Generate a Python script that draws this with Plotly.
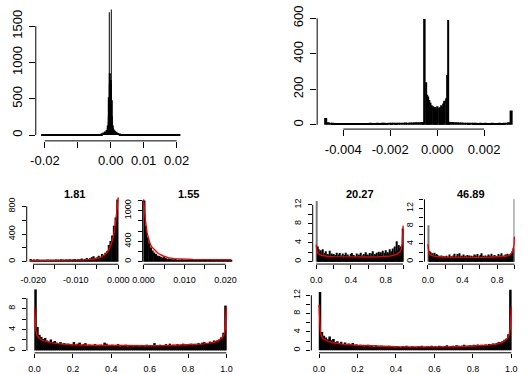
import numpy as np
import plotly.graph_objects as go

W, H = 528, 374
FONT = "Liberation Sans, Arial, sans-serif"

# ---------------- data ----------------
# Panel 1 (top-left) histogram, counts per segment
p1_left_counts = [3, 2, 3, 3, 2, 4, 3, 3, 4, 4, 5, 5, 6, 6, 8, 9, 12, 16]          # -0.021..-0.003, bin 0.001
p1_midl_counts = [25, 35, 50, 70]                                                   # -0.003..-0.001, bin 0.0005
p1_core_counts = [100, 130, 180, 260, 520, 1690, 700, 850, 720, 700,
                  760, 690, 1730, 480, 260, 180, 130, 100, 85, 75]                  # -0.001..0.001, bin 0.0001
p1_midr_counts = [60, 45, 30, 20]                                                   # 0.001..0.003, bin 0.0005
p1_right_counts = [15, 11, 9, 7, 6, 5, 5, 4, 4, 3, 3, 3, 2, 3, 2, 3, 2, 3]         # 0.003..0.021, bin 0.001

# Panel 2 (top-right)
p2_left_counts = [38, 14, 12, 11, 10, 10, 9, 10, 9, 9, 10, 9, 10, 9, 10, 10, 9, 10, 10, 11,
                  10, 10, 11, 10, 11, 11, 10, 12, 11, 12, 11, 12, 12, 12, 13, 12, 13, 13, 14, 14,
                  15, 16]                                                            # -0.0048..-0.0006, bin 0.0001
p2_core_counts = [15, 596, 240, 170, 160, 140, 125, 110, 105, 95, 100, 90, 105, 95, 100, 110,
                  105, 120, 135, 150, 280, 590, 18, 16]                              # -0.0006..0.0006, bin 0.00005
p2_right_counts = [16, 15, 14, 13, 13, 12, 12, 11, 12, 11, 11, 10, 11, 10, 11, 10, 10, 11, 10, 10,
                   11, 10, 11, 12, 14, 80]                                           # 0.0006..0.0032, bin 0.0001

# Panel 3 "1.81"
p3_counts = [40, 25, 30, 20, 35, 15, 20, 25, 15, 20,
             30, 15, 25, 20, 15, 30, 25, 20, 35, 25,
             20, 30, 25, 35, 20, 30, 40, 25, 35, 30,
             45, 30, 40, 55, 35, 50, 65, 80, 45, 60,
             85, 70, 110, 90, 130, 150, 240, 300, 380, 520,
             640, 900]                                                               # -0.0208..0, bin 0.0004
p3_red_x = [-0.0208, -0.018, -0.015, -0.012, -0.010, -0.008, -0.006, -0.005, -0.004, -0.003,
            -0.0025, -0.002, -0.0015, -0.001, -0.0007, -0.0004, -0.0002, 0.0]
p3_red_y = [15, 16, 18, 20, 22, 26, 35, 45, 65, 110, 145, 200, 280, 400, 520, 680, 800, 930]

# Panel 4 "1.55"
p4_counts = [1200, 700, 480, 360, 280, 220, 180, 150, 120, 110,
             95, 80, 90, 70, 60, 65, 55, 50, 45, 60,
             40, 45, 40, 50, 35, 40, 35, 30, 40, 30,
             35, 30, 25, 30, 35, 25, 30, 25, 30, 20,
             25, 30, 20, 25, 20, 25, 30, 20, 25, 20,
             25, 30, 20, 25]                                                         # 0..0.0216, bin 0.0004
p4_red_x = [0.0, 0.0002, 0.0004, 0.0008, 0.0012, 0.0016, 0.002, 0.0028, 0.0036, 0.0048,
            0.006, 0.0075, 0.009, 0.012, 0.015, 0.018, 0.0214]
p4_red_y = [1220, 1000, 850, 580, 440, 345, 290, 220, 160, 112, 80, 60, 50, 42, 40, 38, 38]

# Panel 5 "20.27"  (0..1, bin 0.01)
p5_counts = [12.8, 3.2, 2.6, 2.0, 1.6, 2.4, 1.4, 2.6, 1.2, 1.8,
             1.5, 2.2, 1.0, 1.6, 1.3, 2.3, 1.1, 1.7, 1.4, 1.2,
             1.6, 1.0, 1.4, 1.9, 0.9, 1.5, 1.2, 1.8, 1.0, 1.3,
             1.7, 0.8, 1.4, 1.1, 1.9, 1.0, 1.5, 1.2, 0.9, 1.6,
             1.3, 1.8, 0.8, 1.4, 1.1, 1.0, 1.7, 1.2, 0.9, 1.5,
             1.1, 1.9, 1.0, 1.3, 1.6, 0.9, 1.4, 2.0, 1.1, 1.5,
             1.2, 1.8, 1.0, 1.7, 1.3, 2.2, 1.1, 1.6, 1.4, 1.9,
             1.2, 2.1, 1.5, 1.3, 2.0, 1.4, 2.3, 1.2, 1.8, 1.6,
             2.4, 1.5, 2.0, 1.7, 2.6, 1.4, 2.2, 1.9, 2.8, 1.6,
             3.2, 2.1, 4.3, 2.4, 3.5, 2.0, 2.8, 3.2, 2.6, 7.0]
p5_red_x = [0, 0.005, 0.01, 0.02, 0.04, 0.07, 0.1, 0.15, 0.2, 0.3, 0.4, 0.5, 0.6, 0.7, 0.8,
            0.85, 0.9, 0.93, 0.96, 0.98, 0.99, 1.0]
p5_red_y = [3.6, 2.6, 2.2, 1.8, 1.5, 1.3, 1.2, 1.1, 1.05, 1.0, 0.95, 0.95, 0.97, 1.0, 1.1,
            1.2, 1.4, 1.6, 2.0, 2.8, 3.8, 7.6]

# Panel 6 "46.89"
p6_counts = [8.2, 2.4, 1.8, 2.1, 1.5, 1.9, 1.2, 2.0, 1.3, 1.7,
             1.1, 1.5, 0.9, 1.3, 1.0, 1.4, 0.8, 1.2, 1.0, 1.1,
             0.9, 1.3, 1.0, 0.8, 1.6, 1.1, 0.9, 1.2, 1.0, 1.4,
             1.8, 1.0, 1.2, 0.9, 1.7, 1.1, 1.9, 1.0, 1.3, 1.2,
             1.0, 1.6, 1.1, 1.3, 0.9, 1.5, 1.2, 1.0, 1.4, 1.1,
             1.3, 0.9, 1.2, 1.6, 1.0, 1.4, 1.1, 1.7, 1.0, 1.2,
             1.5, 1.0, 1.9, 1.1, 1.3, 1.0, 1.4, 0.9, 1.2, 1.6,
             1.0, 1.3, 1.1, 1.8, 1.0, 1.2, 1.5, 0.9, 1.3, 1.1,
             1.0, 1.7, 1.2, 1.0, 1.4, 1.9, 1.1, 1.3, 1.0, 1.6,
             1.2, 1.4, 1.8, 1.3, 1.6, 1.5, 1.9, 2.4, 3.0, 14.0]
p6_red_x = [0, 0.005, 0.01, 0.02, 0.04, 0.07, 0.1, 0.2, 0.3, 0.4, 0.5, 0.6, 0.7, 0.8, 0.9,
            0.94, 0.97, 0.985, 0.995, 1.0]
p6_red_y = [3.9, 2.6, 2.1, 1.7, 1.4, 1.25, 1.15, 1.05, 1.0, 0.97, 0.96, 0.97, 1.0, 1.05, 1.2,
            1.4, 1.9, 2.6, 3.8, 5.6]

# Panel 7 (bottom-left)
p7_counts = [11.7, 4.5, 3.0, 2.6, 2.2, 2.4, 1.9, 1.7, 2.1, 1.6,
             1.8, 1.5, 1.3, 1.6, 1.2, 1.4, 1.1, 1.3, 1.2, 1.0,
             1.6, 1.1, 1.3, 1.5, 1.0, 1.2, 1.4, 0.9, 1.1, 1.0,
             0.9, 1.2, 1.0, 0.9, 1.1, 1.0, 1.5, 1.3, 1.0, 0.9,
             1.1, 0.9, 1.0, 1.2, 0.8, 1.0, 0.9, 1.1, 0.8, 1.0,
             0.9, 0.8, 1.0, 0.9, 0.8, 1.0, 0.9, 0.8, 1.1, 0.9,
             1.0, 0.9, 1.4, 1.0, 0.9, 1.1, 0.9, 1.0, 1.2, 1.0,
             1.3, 1.0, 1.1, 0.9, 1.2, 1.0, 1.1, 1.3, 1.0, 1.2,
             1.1, 1.3, 1.0, 1.2, 1.1, 1.4, 1.2, 1.5, 1.6, 1.3,
             1.4, 1.7, 1.5, 1.9, 1.6, 2.0, 2.2, 2.6, 3.4, 8.6]
p7_red_x = [0, 0.003, 0.007, 0.012, 0.02, 0.035, 0.05, 0.08, 0.12, 0.2, 0.3, 0.4, 0.5, 0.6,
            0.7, 0.8, 0.88, 0.93, 0.96, 0.98, 0.99, 0.995, 1.0]
p7_red_y = [8.3, 5.0, 3.8, 3.0, 2.5, 2.0, 1.8, 1.5, 1.3, 1.1, 1.0, 0.93, 0.9, 0.9,
            0.95, 1.05, 1.25, 1.5, 1.9, 2.5, 3.3, 4.6, 8.4]

# Panel 8 (bottom-right)
p8_counts = [12.7, 4.0, 3.2, 2.8, 2.4, 3.0, 2.2, 2.5, 1.8, 2.0,
             1.6, 1.9, 1.4, 1.7, 1.3, 1.5, 1.2, 1.6, 1.1, 1.3,
             1.0, 1.2, 1.1, 0.9, 1.0, 1.2, 0.9, 1.0, 0.8, 1.1,
             0.9, 0.8, 1.0, 0.9, 0.8, 0.9, 1.0, 0.8, 0.9, 0.7,
             0.9, 0.8, 0.7, 0.9, 0.8, 1.0, 0.8, 0.7, 0.9, 0.8,
             0.7, 0.9, 0.8, 1.0, 0.7, 0.8, 0.9, 0.8, 1.0, 0.8,
             0.9, 0.8, 1.0, 0.9, 0.8, 0.9, 1.1, 0.8, 0.9, 1.0,
             0.9, 1.1, 1.0, 0.9, 1.0, 1.2, 0.9, 1.0, 1.1, 1.0,
             1.2, 1.0, 1.3, 1.1, 1.2, 1.0, 1.3, 1.2, 1.4, 1.3,
             1.5, 1.3, 1.6, 1.8, 1.7, 2.0, 2.3, 2.6, 3.5, 13.2]
p8_red_x = [0, 0.003, 0.007, 0.012, 0.02, 0.035, 0.05, 0.08, 0.12, 0.2, 0.3, 0.4, 0.5, 0.6,
            0.7, 0.8, 0.88, 0.93, 0.96, 0.98, 0.99, 0.995, 1.0]
p8_red_y = [9.9, 5.5, 4.0, 3.2, 2.6, 2.2, 1.9, 1.6, 1.35, 1.1, 0.9, 0.8, 0.75, 0.75,
            0.8, 0.95, 1.15, 1.45, 1.9, 2.6, 3.6, 5.0, 9.5]

titles = ["1.81", "1.55", "20.27", "46.89"]


# ---------------- helpers ----------------
def seg(start, width, counts):
    n = len(counts)
    centers = start + width * (np.arange(n) + 0.5)
    return list(centers), [width] * n, list(counts)


def join(*segs):
    xs, ws, ys = [], [], []
    for s in segs:
        xs += s[0]; ws += s[1]; ys += s[2]
    return xs, ws, ys


hists = {
    1: join(seg(-0.021, 0.001, p1_left_counts), seg(-0.003, 0.0005, p1_midl_counts),
            seg(-0.001, 0.0001, p1_core_counts), seg(0.001, 0.0005, p1_midr_counts),
            seg(0.003, 0.001, p1_right_counts)),
    2: join(seg(-0.0048, 0.0001, p2_left_counts), seg(-0.0006, 0.00005, p2_core_counts),
            seg(0.0006, 0.0001, p2_right_counts)),
    3: seg(-0.0208, 0.0004, p3_counts),
    4: seg(0.0, 0.0004, p4_counts),
    5: seg(0.0, 0.01, p5_counts),
    6: seg(0.0, 0.01, p6_counts),
    7: seg(0.0, 0.01, p7_counts),
    8: seg(0.0, 0.01, p8_counts),
}
reds = {3: (p3_red_x, p3_red_y), 4: (p4_red_x, p4_red_y), 5: (p5_red_x, p5_red_y),
        6: (p6_red_x, p6_red_y), 7: (p7_red_x, p7_red_y), 8: (p8_red_x, p8_red_y)}

unit_ticks = [0, 0.2, 0.4, 0.6, 0.8, 1.0]
BIG = dict(fs=13, tl=6, so=2)
SMALL = dict(fs=9, tl=4, so=3)
panels = {
    1: dict(dx=(26.7, 182.4), dy=(0, 138.8), xr=(-0.02276, 0.0229), yr=(-80, 1750),
            xt=[-0.02, -0.01, 0, 0.01, 0.02], xl=["-0.02", "", "0.00", "0.01", "0.02"],
            yt=[0, 500, 1000, 1500], yl=["0", "500", "1000", "1500"], **BIG),
    2: dict(dx=(318, 527), dy=(6.3, 126.5), xr=(-0.005113, 0.003487), yr=(-24, 624),
            xt=[-0.004, -0.002, 0, 0.002], xl=["-0.004", "-0.002", "0.000", "0.002"],
            yt=[0, 200, 400, 600], yl=["0", "200", "400", "600"], **BIG),
    3: dict(dx=(17.3, 115.7), dy=(195.1, 267.7), xr=(-0.02152, 0.00083), yr=(-37, 967),
            xt=[-0.02, -0.015, -0.01, -0.005, 0], xl=["-0.020", "", "-0.010", "", "0.000"],
            yt=[0, 200, 400, 600, 800], yl=["0", "", "400", "", "800"], **SMALL),
    4: dict(dx=(137.3, 232.4), dy=(197.3, 267.7), xr=(-0.00024, 0.0222), yr=(-50, 1270),
            xt=[0, 0.005, 0.01, 0.015, 0.02], xl=["0.000", "", "0.010", "", "0.020"],
            yt=[0, 200, 400, 600, 800, 1000, 1200], yl=["0", "", "400", "", "", "1000", ""], **SMALL),
    5: dict(dx=(313.4, 410.6), dy=(199.2, 267.5), xr=(-0.04, 1.04), yr=(-0.51, 13.3),
            xt=unit_ticks, xl=["0.0", "", "0.4", "", "0.8", ""],
            yt=[0, 2, 4, 6, 8, 10, 12], yl=["0", "", "4", "", "8", "", "12"], **SMALL),
    6: dict(dx=(429.1, 525.8), dy=(197.3, 267.6), xr=(-0.04, 1.04), yr=(-0.56, 14.56),
            xt=unit_ticks, xl=["0.0", "", "0.4", "", "0.8", ""],
            yt=[0, 2, 4, 6, 8, 10, 12, 14], yl=["0", "", "4", "", "8", "", "12", ""], **SMALL),
    7: dict(dx=(17.5, 232), dy=(291.4, 360.3), xr=(-0.04, 1.04), yr=(-0.47, 12.17),
            xt=unit_ticks, xl=["0.0", "0.2", "0.4", "0.6", "0.8", "1.0"],
            yt=[0, 2, 4, 6, 8, 10], yl=["0", "", "4", "", "8", ""], **SMALL),
    8: dict(dx=(312, 527), dy=(291.8, 360.2), xr=(-0.04, 1.04), yr=(-0.53, 13.73),
            xt=unit_ticks, xl=["0.0", "0.2", "0.4", "0.6", "0.8", "1.0"],
            yt=[0, 2, 4, 6, 8, 10, 12], yl=["0", "", "4", "", "8", "", "12"], **SMALL),
}
# thin edge bars rendered grey (anti-aliased look) in the two narrow unit panels
grey_edges = {5: [0], 6: [0, -1]}

fig = go.Figure()
layout = dict(width=W, height=H, margin=dict(l=0, r=0, t=0, b=0), showlegend=False,
              paper_bgcolor="white", plot_bgcolor="white", barmode="overlay",
              font=dict(family=FONT, color="black"))
shapes, annotations = [], []

for i, p in panels.items():
    xa = "x" if i == 1 else f"x{i}"
    ya = "y" if i == 1 else f"y{i}"
    xs, ws, ys = hists[i]
    colors = ["black"] * len(xs)
    widths = [w * 1.3 for w in ws]
    for k in grey_edges.get(i, []):
        colors[k] = "#7a7a7a"
        widths[k] = ws[k] * 0.8
    fig.add_trace(go.Bar(x=xs, y=ys, width=widths,
                         marker=dict(color=colors, line=dict(width=0)),
                         xaxis=xa, yaxis=ya, hoverinfo="skip"))
    if i in reds:
        rx, ry = reds[i]
        fig.add_trace(go.Scatter(x=rx, y=ry, mode="lines", line=dict(color="#ee0000", width=1.4),
                                 xaxis=xa, yaxis=ya, hoverinfo="skip"))
    common = dict(showgrid=False, zeroline=False, showline=False, ticks="outside",
                  ticklen=p["tl"], tickwidth=1, tickcolor="black", ticklabelstandoff=p["so"],
                  ticklabeloverflow="allow",
                  tickfont=dict(family=FONT, size=p["fs"], color="black"), fixedrange=True)
    layout["xaxis" if i == 1 else f"xaxis{i}"] = dict(
        domain=[p["dx"][0] / W, p["dx"][1] / W], range=list(p["xr"]), anchor=ya,
        tickmode="array", tickvals=p["xt"], ticktext=p["xl"], **common)
    layout["yaxis" if i == 1 else f"yaxis{i}"] = dict(
        domain=[1 - p["dy"][1] / H, 1 - p["dy"][0] / H], range=list(p["yr"]), anchor=xa,
        tickmode="array", tickvals=p["yt"], ticktext=p["yl"], tickangle=-90, **common)
    # R-style axis lines spanning first..last tick
    shapes.append(dict(type="line", xref=xa, yref=f"{ya} domain", x0=p["xt"][0], x1=p["xt"][-1],
                       y0=0, y1=0, line=dict(color="black", width=1)))
    shapes.append(dict(type="line", xref=f"{xa} domain", yref=ya, x0=0, x1=0,
                       y0=p["yt"][0], y1=p["yt"][-1], line=dict(color="black", width=1)))

for k, i in enumerate([3, 4, 5, 6]):
    p = panels[i]
    annotations.append(dict(text=f"<b>{titles[k]}</b>", xref="paper", yref="paper",
                            x=(p["dx"][0] + p["dx"][1]) / 2 / W, y=1 - 194.5 / H,
                            xanchor="center", yanchor="middle", showarrow=False,
                            font=dict(family=FONT, size=11, color="black")))

layout["shapes"] = shapes
layout["annotations"] = annotations
fig.update_layout(**layout)
fig.write_html("out.html")
